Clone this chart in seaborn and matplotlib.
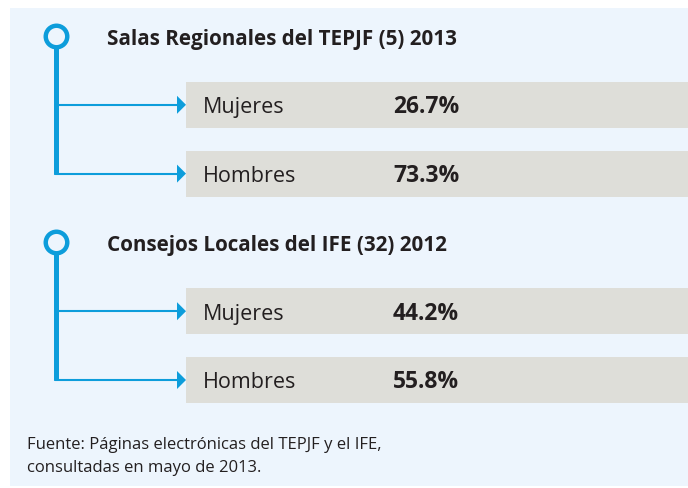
import pandas as pd
import matplotlib.pyplot as plt
import seaborn as sns
from matplotlib.patches import Polygon

# datos del gráfico
secciones = ["Salas Regionales del TEPJF (5) 2013", "Consejos Locales del IFE (32) 2012"]
grupos = ["Mujeres", "Hombres"]
pct_salas = [26.7, 73.3]
pct_consejos = [44.2, 55.8]
fuente = ["Fuente: Páginas electrónicas del TEPJF y el IFE,",
          "consultadas en mayo de 2013."]

# colores
FONDO = "#EDF5FD"
GRIS = "#DEDED9"
AZUL = "#0D9DDB"
TEXTO = "#231F20"

# geometría (pixeles de la imagen; las cajas grises empiezan en X0)
W, H = 688, 489
X0 = 186
Y0, PASO = 37, 68.8   # centro de la fila 0 y separación entre filas


def px(x):
    return x - X0


def fila_y(pix):
    return (pix - Y0) / PASO


# tabla de filas: título, mujeres, hombres por sección
orden = []
registros = []
for i, (sec, vals) in enumerate(zip(secciones, [pct_salas, pct_consejos])):
    orden.append(f"t{i}")
    for g, v in zip(grupos, vals):
        clave = f"{g}{i}"
        orden.append(clave)
        registros.append({"fila": clave, "grupo": g, "valor": v, "ancho": W - X0})
df = pd.DataFrame(registros)

sns.set_theme(style="white")
plt.rcParams["font.family"] = ["Open Sans", "DejaVu Sans"]

fig = plt.figure(figsize=(W / 100, H / 100), dpi=100)
fig.patch.set_facecolor("white")
ax = fig.add_axes([10 / W, (H - 487) / H, (W - 10) / W, (487 - 9) / H])
ax.set_facecolor(FONDO)

sns.barplot(data=df, x="ancho", y="fila", order=orden, color=GRIS, saturation=1,
            width=46 / PASO, orient="h", errorbar=None, linewidth=0, ax=ax)

ax.set_xlim(px(10), px(W))
ax.set_ylim(fila_y(487), fila_y(9))
ax.set_xticks([])
ax.set_yticks([])
ax.set_xlabel("")
ax.set_ylabel("")
for s in ax.spines.values():
    s.set_visible(False)

# líneas, flechas y textos
base = 7.5 / PASO
cabeceras = []
for i, (sec, vals) in enumerate(zip(secciones, [pct_salas, pct_consejos])):
    h = orden.index(f"t{i}")
    cabeceras.append(h)
    filas = [orden.index(f"{g}{i}") for g in grupos]
    ax.plot([px(56), px(56)], [h, filas[-1]], color=AZUL, lw=3.6,
            solid_capstyle="butt", zorder=3)
    ax.text(px(107), h + base, sec, fontsize=14.9, fontweight="bold",
            color=TEXTO, va="baseline")
    for r, g, v in zip(filas, grupos, vals):
        ax.plot([px(55), px(178)], [r, r], color=AZUL, lw=1.5, zorder=3)
        ax.add_patch(Polygon([(px(177), r - 9 / PASO), (px(177), r + 9 / PASO),
                              (px(186), r)], closed=True, color=AZUL, lw=0, zorder=3))
        ax.text(px(203), r + base, g, fontsize=15.5, color=TEXTO, va="baseline")
        ax.text(px(393), r + base, f"{v:.1f}%", fontsize=16.5, fontweight="bold",
                color=TEXTO, va="baseline")

sns.scatterplot(x=[px(56)] * len(cabeceras), y=cabeceras, s=240, color=FONDO,
                edgecolor=AZUL, linewidth=3.2, zorder=4, ax=ax, legend=False)

for k, linea in enumerate(fuente):
    fig.text(27 / W, 1 - (449 + 23 * k) / H, linea, fontsize=12, color=TEXTO,
             va="baseline")

fig.savefig("out.png", dpi=100, facecolor=fig.get_facecolor())
